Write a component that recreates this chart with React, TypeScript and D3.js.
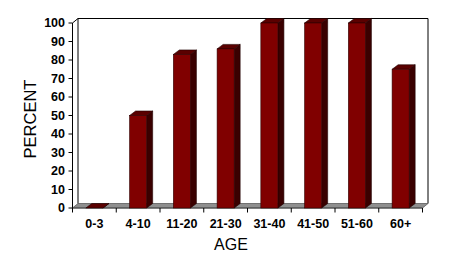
import React from "react";
import * as d3 from "d3";

const categories = ["0-3", "4-10", "11-20", "21-30", "31-40", "41-50", "51-60", "60+"];
const values = [0, 50, 83, 86, 100, 100, 100, 75];
const yTicks = [0, 10, 20, 30, 40, 50, 60, 70, 80, 90, 100];

const W = 469;
const H = 264;
const left = 72.5;
const right = 422.5;
const bottom = 208;
const top = 23;
const DX = 5.5;
const DY = -4.5;
const BDX = 6;
const BDY = -4.5;

export default function App() {
  const x = d3
    .scaleBand<string>()
    .domain(categories)
    .range([left, right])
    .paddingInner(0.61)
    .paddingOuter(0.305);
  const slot = d3.scaleBand<string>().domain(categories).range([left, right]).padding(0);
  const y = d3.scaleLinear().domain([0, 100]).range([bottom, top]);

  const y0 = y(0);
  const y100 = y(100);
  const pts = (a: [number, number][]) => a.map((p) => p.join(",")).join(" ");

  return (
    <svg
      width={W}
      height={H}
      style={{ position: "absolute", left: 0, top: 0, background: "#fff" }}
      fontFamily="Arial, 'Liberation Sans', sans-serif"
    >
      <rect x={0} y={0} width={W} height={H} fill="#fff" />
      {/* back wall */}
      <polyline
        points={pts([
          [left + DX, y0 + DY],
          [left + DX, y100 + DY],
          [right + DX, y100 + DY],
          [right + DX, y0 + DY],
        ])}
        fill="none"
        stroke="#000"
        strokeWidth={1}
      />
      {/* floor */}
      <polygon
        points={pts([
          [left, y0],
          [left + DX, y0 + DY],
          [right + DX, y0 + DY],
          [right, y0],
        ])}
        fill="#8f8f8f"
        stroke="#5a5a5a"
        strokeWidth={0.8}
      />
      {/* y axis */}
      <line x1={left} x2={left} y1={y0} y2={y100} stroke="#000" />
      <line x1={left} x2={left + DX} y1={y100} y2={y100 + DY} stroke="#000" />
      <line x1={left} x2={right} y1={y0} y2={y0} stroke="#444" />
      {yTicks.map((t) => (
        <g key={t}>
          <line x1={left - 4} x2={left} y1={y(t)} y2={y(t)} stroke="#000" />
          <text
            x={65}
            y={y(t)}
            textAnchor="end"
            dominantBaseline="central"
            fontSize={12.5}
            fontWeight="bold"
            fill="#000"
          >
            {t}
          </text>
        </g>
      ))}
      {/* x ticks */}
      {[...categories.map((c) => slot(c)!), right].map((v, i) => (
        <line key={i} x1={v} x2={v} y1={y0} y2={y0 + 4.5} stroke="#000" />
      ))}
      {/* bars */}
      {categories.map((c, i) => {
        const x0 = x(c)!;
        const bw = x.bandwidth();
        const yt = y(values[i]);
        return (
          <g key={c}>
            {/* side */}
            <polygon
              points={pts([
                [x0 + bw, yt],
                [x0 + bw + BDX, yt + BDY],
                [x0 + bw + BDX, y0 + BDY],
                [x0 + bw, y0],
              ])}
              fill="#3a0000"
              stroke="#200000"
              strokeWidth={0.6}
            />
            {/* top */}
            <polygon
              points={pts([
                [x0, yt],
                [x0 + BDX, yt + BDY],
                [x0 + bw + BDX, yt + BDY],
                [x0 + bw, yt],
              ])}
              fill="#5a0000"
              stroke="#200000"
              strokeWidth={0.6}
            />
            {/* front */}
            {values[i] > 0 && (
              <rect x={x0} y={yt} width={bw} height={y0 - yt} fill="#800000" stroke="#300000" strokeWidth={0.6} />
            )}
          </g>
        );
      })}
      {/* x labels */}
      {categories.map((c) => (
        <text
          key={c}
          x={slot(c)! + slot.bandwidth() / 2}
          y={228}
          textAnchor="middle"
          fontSize={12.5}
          fontWeight="bold"
          fill="#000"
        >
          {c}
        </text>
      ))}
      <text x={231} y={250} textAnchor="middle" fontSize={16} fill="#000">
        AGE
      </text>
      <text
        transform={`translate(36,119) rotate(-90)`}
        textAnchor="middle"
        fontSize={16.5}
        fill="#000"
      >
        PERCENT
      </text>
    </svg>
  );
}
